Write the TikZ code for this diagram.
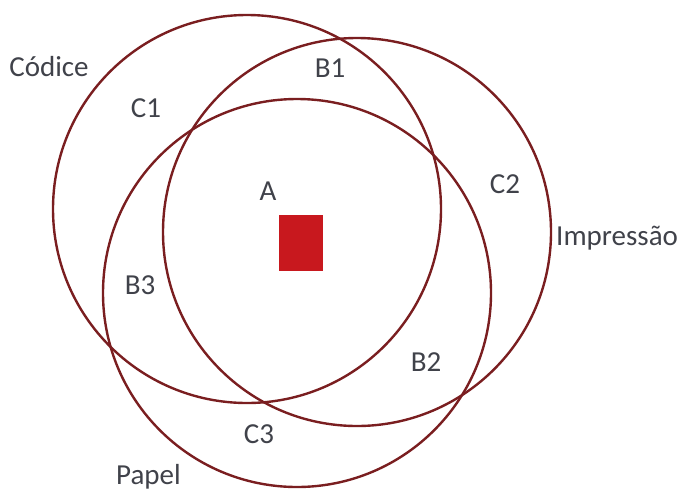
\documentclass[tikz,border=0pt]{standalone}
\usepackage{fontspec}
\setmainfont{Carlito}
\definecolor{ring}{RGB}{122,30,32}
\definecolor{box}{RGB}{200,24,30}
\definecolor{lbl}{RGB}{64,66,74}
\begin{document}
\begin{tikzpicture}[x=1pt,y=-1pt,
  ring/.style={circle,draw=ring,line width=2.4pt,minimum size=388pt,inner sep=0pt},
  lab/.style={text=lbl,font=\fontsize{29}{32}\selectfont,anchor=base,inner sep=0pt}]
\useasboundingbox (0,0) rectangle (679,490);
\node[ring] (codice) at (247,209) {};
\node[ring] (impressao) at (357,232) {};
\node[ring] (papel) at (297,293) {};
\node[fill=box,minimum width=44pt,minimum height=56pt,inner sep=0pt] (core) at (301,243) {};
\node[lab] (lcodice) at (49,76) {Códice};
\node[lab] (lc1) at (146,117) {C1};
\node[lab] (lb1) at (330,77) {B1};
\node[lab] (la) at (268,200) {A};
\node[lab] (lc2) at (505,193) {C2};
\node[lab,anchor=base west] (limp) at (556,245) {Impressão};
\node[lab] (lb3) at (140,294) {B3};
\node[lab] (lb2) at (426,371) {B2};
\node[lab] (lc3) at (259,443) {C3};
\node[lab] (lpapel) at (148.5,484) {Papel};
\end{tikzpicture}
\end{document}
